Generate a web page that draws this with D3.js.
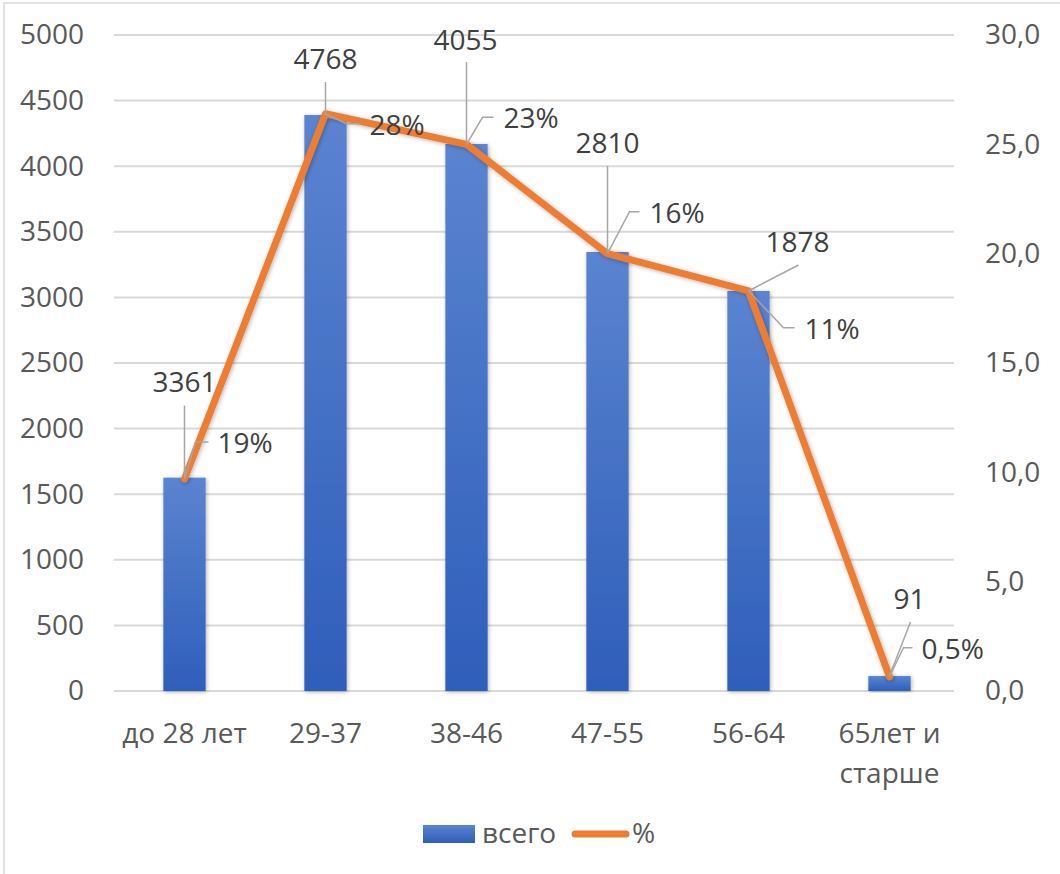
<!DOCTYPE html>
<html>
<head>
<meta charset="utf-8">
<script src="https://cdn.jsdelivr.net/npm/d3@7"></script>
<style>
  body { margin: 0; background: #fff; }
  text { font-family: "Open Sans", "Liberation Sans", sans-serif; }
</style>
</head>
<body>
<svg id="chart" width="1060" height="874"></svg>
<script>
// data
const categories = ["до 28 лет", "29-37", "38-46", "47-55", "56-64", "65лет и\nстарше"];
const barValues = [1626, 4390, 4169, 3346, 3049, 114];
const barLabels = ["3361", "4768", "4055", "2810", "1878", "91"];
const pctValues = [9.7, 26.4, 25.0, 20.0, 18.3, 0.65];
const pctLabels = ["19%", "28%", "23%", "16%", "11%", "0,5%"];
const leftTicks = [0, 500, 1000, 1500, 2000, 2500, 3000, 3500, 4000, 4500, 5000];
const rightTicks = [0, 5, 10, 15, 20, 25, 30];

// label placement (offsets from the point, px)
const barLabelPos = [
    {tx: 0, ty: -86, lx: 0, ly: -72},
    {tx: 0, ty: -46, lx: 0, ly: -33},
    {tx: -1, ty: -94, lx: 0, ly: -82},
    {tx: 0, ty: -99, lx: 0, ly: -86},
    {tx: 49, ty: -39, lx: 50, ly: -26},
    {tx: 20, ty: -67, lx: 21, ly: -54}
];
const pctLabelPos = [
    {ex: 11, ey: -37, lx: 24, tx: 33},
    {ex: 21, ey: 10, lx: 35, tx: 44},
    {ex: 16, ey: -27, lx: 27, tx: 37},
    {ex: 22, ey: -42, lx: 32, tx: 42},
    {ex: 35, ey: 37, lx: 46, tx: 56},
    {ex: 14, ey: -29, lx: 23, tx: 32}
];

const plot = {left: 114, right: 960, top: 35, bottom: 691, gridEnd: 954};
const fontSize = 28;

const svg = d3.select("#chart");

const defs = svg.append("defs");
const grad = defs.append("linearGradient")
    .attr("id", "barGrad")
    .attr("x1", 0).attr("y1", 0).attr("x2", 0).attr("y2", 1);
grad.append("stop").attr("offset", "0%").attr("stop-color", "#5B84D0");
grad.append("stop").attr("offset", "100%").attr("stop-color", "#2E5EBA");

const legGrad = defs.append("linearGradient")
    .attr("id", "legGrad")
    .attr("x1", 0).attr("y1", 0).attr("x2", 0).attr("y2", 1);
legGrad.append("stop").attr("offset", "0%").attr("stop-color", "#5B84D0");
legGrad.append("stop").attr("offset", "100%").attr("stop-color", "#2E5EBA");

const shadow = defs.append("filter")
    .attr("id", "shadow")
    .attr("x", "-30%").attr("y", "-10%").attr("width", "160%").attr("height", "120%");
shadow.append("feDropShadow")
    .attr("dx", 1).attr("dy", 1)
    .attr("stdDeviation", 2)
    .attr("flood-color", "#000")
    .attr("flood-opacity", 0.3);

// chart border (top and left edges visible)
svg.append("rect")
    .attr("x", 4).attr("y", 3)
    .attr("width", 1070).attr("height", 890)
    .attr("fill", "none")
    .attr("stroke", "#D9D9D9")
    .attr("stroke-width", 1.5);

const x = d3.scaleBand()
    .domain(categories)
    .range([plot.left, plot.right])
    .paddingInner(0.7)
    .paddingOuter(0.35);

const yLeft = d3.scaleLinear().domain([0, 5000]).range([plot.bottom, plot.top]);
const yRight = d3.scaleLinear().domain([0, 30]).range([plot.bottom, plot.top]);

const cx = d => x(d) + x.bandwidth() / 2;

// gridlines
svg.append("g")
    .selectAll("line")
    .data(leftTicks)
    .join("line")
    .attr("x1", plot.left).attr("x2", plot.gridEnd)
    .attr("y1", d => yLeft(d)).attr("y2", d => yLeft(d))
    .attr("stroke", "#D9D9D9")
    .attr("stroke-width", 2);

// left axis
const leftAxis = svg.append("g")
    .attr("transform", "translate(84,0)")
    .call(d3.axisLeft(yLeft).tickValues(leftTicks).tickSize(0).tickPadding(0)
        .tickFormat(d3.format("d")));
leftAxis.select(".domain").remove();
leftAxis.selectAll("text")
    .attr("fill", "#595959")
    .style("font-size", fontSize + "px");

// right axis
const rightAxis = svg.append("g")
    .attr("transform", "translate(985,0)")
    .call(d3.axisRight(yRight).tickValues(rightTicks).tickSize(0).tickPadding(0)
        .tickFormat(d => d3.format(".1f")(d).replace(".", ",")));
rightAxis.select(".domain").remove();
rightAxis.selectAll("text")
    .attr("fill", "#595959")
    .style("font-size", fontSize + "px");

// x labels
const xLabels = svg.append("g")
    .selectAll("text")
    .data(categories)
    .join("text")
    .attr("x", d => cx(d))
    .attr("y", 743)
    .attr("text-anchor", "middle")
    .attr("fill", "#595959")
    .style("font-size", fontSize + "px");
xLabels.each(function(d) {
    const parts = d.split("\n");
    d3.select(this).selectAll("tspan")
        .data(parts)
        .join("tspan")
        .attr("x", cx(d))
        .attr("dy", (p, i) => i === 0 ? 0 : 40)
        .text(p => p);
});

// bars
svg.append("g")
    .selectAll("rect")
    .data(categories)
    .join("rect")
    .attr("x", d => x(d))
    .attr("width", x.bandwidth())
    .attr("y", (d, i) => yLeft(barValues[i]))
    .attr("height", (d, i) => yLeft(0) - yLeft(barValues[i]))
    .attr("fill", "url(#barGrad)")
    .attr("filter", "url(#shadow)");

// line
const line = d3.line()
    .x((d, i) => cx(categories[i]))
    .y(d => yRight(d));

svg.append("path")
    .datum(pctValues)
    .attr("d", line)
    .attr("fill", "none")
    .attr("stroke", "#ED7D31")
    .attr("stroke-width", 7)
    .attr("stroke-linejoin", "round")
    .attr("stroke-linecap", "round")
    .attr("filter", "url(#shadow)");

// bar data labels with leader lines
const barLab = svg.append("g");
categories.forEach((c, i) => {
    const px = cx(c);
    const py = yLeft(barValues[i]);
    const p = barLabelPos[i];
    barLab.append("line")
        .attr("x1", px).attr("y1", py)
        .attr("x2", px + p.lx).attr("y2", py + p.ly)
        .attr("stroke", "#A6A6A6")
        .attr("stroke-width", 1.5);
    barLab.append("text")
        .attr("x", px + p.tx)
        .attr("y", py + p.ty)
        .attr("text-anchor", "middle")
        .attr("fill", "#404040")
        .style("font-size", fontSize + "px")
        .text(barLabels[i]);
});

// percent data labels with leader lines
const pctLab = svg.append("g");
categories.forEach((c, i) => {
    const px = cx(c);
    const py = yRight(pctValues[i]);
    const p = pctLabelPos[i];
    pctLab.append("polyline")
        .attr("points", `${px},${py} ${px + p.ex},${py + p.ey} ${px + p.lx},${py + p.ey}`)
        .attr("fill", "none")
        .attr("stroke", "#A6A6A6")
        .attr("stroke-width", 1.5);
    pctLab.append("text")
        .attr("x", px + p.tx)
        .attr("y", py + p.ey + 11)
        .attr("fill", "#404040")
        .style("font-size", fontSize + "px")
        .text(pctLabels[i]);
});

// legend
const legend = svg.append("g");
legend.append("rect")
    .attr("x", 423).attr("y", 825)
    .attr("width", 52).attr("height", 18)
    .attr("fill", "url(#legGrad)");
legend.append("text")
    .attr("x", 482).attr("y", 843)
    .attr("fill", "#595959")
    .style("font-size", fontSize + "px")
    .text("всего");
legend.append("line")
    .attr("x1", 575).attr("x2", 626)
    .attr("y1", 834).attr("y2", 834)
    .attr("stroke", "#ED7D31")
    .attr("stroke-width", 7)
    .attr("stroke-linecap", "round");
legend.append("text")
    .attr("x", 632).attr("y", 843)
    .attr("fill", "#595959")
    .style("font-size", fontSize + "px")
    .text("%");
</script>
</body>
</html>
